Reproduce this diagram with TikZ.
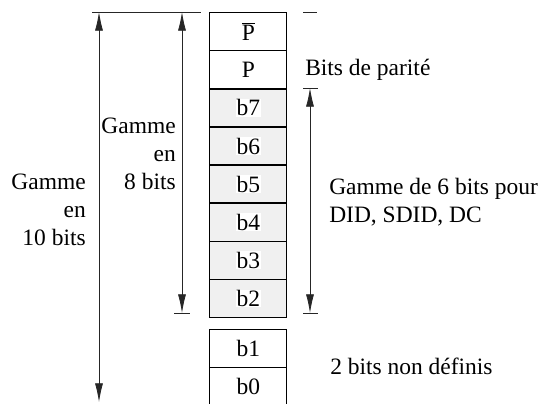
\documentclass[tikz,border=0pt]{standalone}
\usepackage{fontspec}
\setmainfont{Liberation Serif}
\usetikzlibrary{positioning,matrix,arrows.meta}

\newcommand{\wbox}[1]{{\setlength{\fboxsep}{0.5pt}\colorbox{white}{#1}}}

\begin{document}
\begin{tikzpicture}[x=0.75pt,y=-0.75pt,
    font=\fontsize{17.6}{21.2}\selectfont,
    txt/.style={inner sep=0pt},
    dim/.style={line width=0.6pt, black!85, {Latex[length=14pt,width=6pt]}-{Latex[length=14pt,width=6pt]}},
    tick/.style={line width=0.7pt, black!85}]
\clip (0,0) rectangle (542,403);

\matrix (R) [matrix of nodes, anchor=north west, inner sep=0pt,
    row sep=-\pgflinewidth,
    nodes={draw, line width=0.8pt, minimum width=57.75pt, minimum height=28.2pt, inner sep=0pt},
    row 3/.style={nodes={fill=gray!12}},
    row 4/.style={nodes={fill=gray!12}},
    row 5/.style={nodes={fill=gray!12}},
    row 6/.style={nodes={fill=gray!12}},
    row 7/.style={nodes={fill=gray!12}},
    row 8/.style={nodes={fill=gray!12}},
    ] at (209,12) {
    $\overline{\hbox{P}}$\\
    P\\
    \wbox{b7}\\
    \wbox{b6}\\
    \wbox{b5}\\
    \wbox{b4}\\
    \wbox{b3}\\
    \wbox{b2}\\};

\matrix (B) [matrix of nodes, anchor=north west, inner sep=0pt,
    row sep=-\pgflinewidth,
    nodes={draw, line width=0.8pt, minimum width=57.75pt, minimum height=28.2pt, inner sep=0pt},
    ] at (209,329) {
    b1\\
    b0\\};

% cotes a gauche
\coordinate (top10) at (99,12);
\coordinate (bot10) at (99,402);
\coordinate (top8) at (182,12);
\coordinate (bot8) at (182,313);
\draw[tick] (92,12) -- (201,12);
\draw[tick] (174,313) -- (190,313);
\draw[dim] (top10) -- (bot10);
\draw[dim] (top8) -- (bot8);

% cotes a droite
\coordinate (top6) at (310,88);
\coordinate (bot6) at (310,313);
\draw[tick] (303,12) -- (317,12);
\draw[tick] (303,88) -- (318,88);
\draw[tick] (303,313) -- (318,313);
\draw[dim] (top6) -- (bot6);

\node[txt, anchor=east, align=right] (g10) at (86,210) {Gamme\\en\\10 bits};
\node[txt, anchor=east, align=right] (g8) at (176,154) {Gamme\\en\\8 bits};
\node[txt, anchor=west] (par) at (305,70) {Bits de parité};
\node[txt, anchor=west, align=left] (g6) at (329,202) {Gamme de 6 bits pour\\DID, SDID, DC};
\node[txt, anchor=west] (nd) at (330,366) {2 bits non définis};

\end{tikzpicture}
\end{document}
